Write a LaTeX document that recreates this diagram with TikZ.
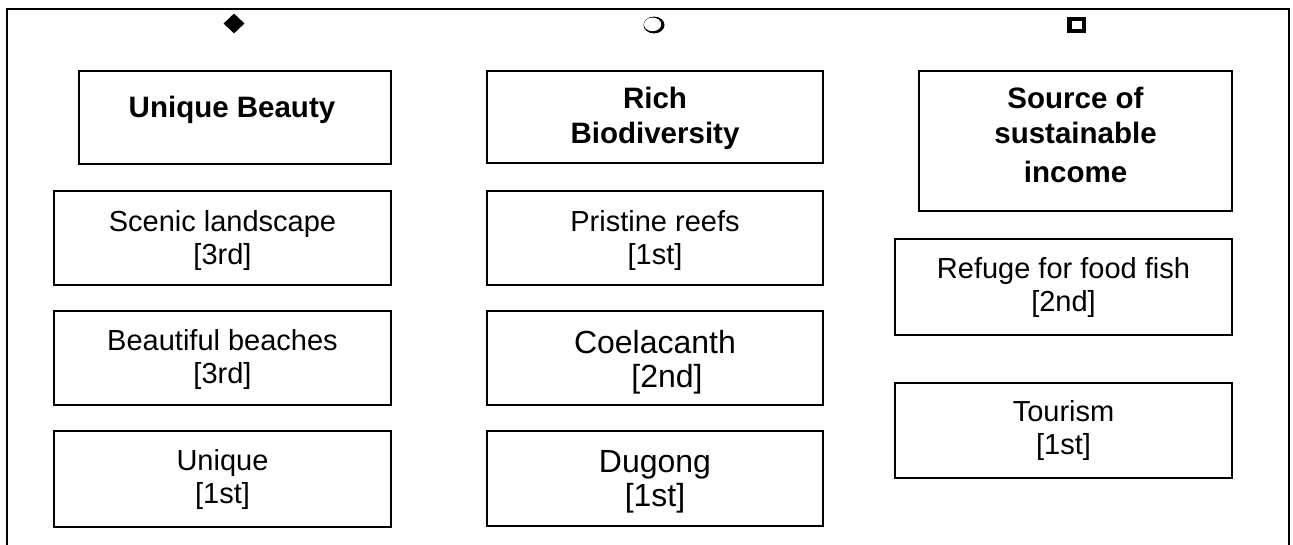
\documentclass[tikz,border=0pt]{standalone}
\usepackage{fontspec}
\setmainfont{Liberation Sans}
\usetikzlibrary{shapes.geometric}
\begin{document}
\begin{tikzpicture}[x=1pt,y=-1pt,
  box/.style={draw, line width=1.8pt, inner sep=0pt},
  txt/.style={align=center, inner sep=0pt, font=\fontsize{29}{33}\selectfont},
  bigtxt/.style={align=center, inner sep=0pt, font=\fontsize{32}{34}\selectfont},
  headtxt/.style={align=center, inner sep=0pt, font=\fontsize{29.5}{35}\selectfont\bfseries}]
\useasboundingbox (0,0) rectangle (1293,544);
% outer frame (open at the bottom)
\coordinate (fbl) at (7,546);
\coordinate (ftl) at (7,9);
\coordinate (ftr) at (1289,9);
\coordinate (fbr) at (1289,546);
\draw[line width=1.8pt] (fbl) -- (ftl) -- (ftr) -- (fbr);
% bullet symbols
\node[diamond, fill=black, minimum width=21pt, minimum height=20pt, inner sep=0pt] (sym1) at (234,23.5) {};
\fill[black] (654,25) ellipse [x radius=10.5, y radius=8.4];
\fill[white] (652.6,24.4) ellipse [x radius=8.6, y radius=6.8];
\node[draw, line width=4.5pt, minimum width=14.5pt, minimum height=12pt, inner sep=0pt] (sym3) at (1076.5,25) {};
% column 1
\node[box, minimum width=312pt, minimum height=93pt] (ub) at (235,117.5) {};
\node[headtxt] (ubt) at (232,109.5) {Unique Beauty};
\node[box, minimum width=337pt, minimum height=94pt] (sc) at (222.5,238) {};
\node[txt] (sct) at ([yshift=-2pt]sc.center) {Scenic landscape\\{}[3rd]};
\node[box, minimum width=337pt, minimum height=94pt] (bb) at (222.5,358) {};
\node[txt] (bbt) at ([yshift=-1pt]bb.center) {Beautiful beaches\\{}[3rd]};
\node[box, minimum width=337pt, minimum height=96pt] (un) at (222.5,479) {};
\node[txt] (unt) at (un.center) {Unique\\{}[1st]};
% column 2
\node[box, minimum width=336pt, minimum height=92pt] (rb) at (655,117) {};
\node[headtxt] (rbt) at ([yshift=-1pt]rb.center) {Rich\\Biodiversity};
\node[box, minimum width=336pt, minimum height=94pt] (pr) at (655,238) {};
\node[txt] (prt) at ([yshift=-2pt]pr.center) {Pristine reefs\\{}[1st]};
\node[box, minimum width=336pt, minimum height=94pt] (co) at (655,358) {};
\node[bigtxt] (cot) at ([yshift=-4pt]co.center) {Coelacanth\\{}\hspace*{24pt}[2nd]};
\node[box, minimum width=336pt, minimum height=95pt] (du) at (655,478.5) {};
\node[bigtxt] (dut) at ([yshift=-3pt]du.center) {Dugong\\{}[1st]};
% column 3
\node[box, minimum width=313pt, minimum height=140pt] (so) at (1075.5,141) {};
\node[headtxt] (sot) at (1075.5,134.5) {Source of\\sustainable\\[4pt]income};
\node[box, minimum width=337pt, minimum height=96pt] (rf) at (1063.5,287) {};
\node[txt] (rft) at (rf.center) {Refuge for food fish\\{}[2nd]};
\node[box, minimum width=337pt, minimum height=95pt] (to) at (1063.5,430.5) {};
\node[txt] (tot) at (to.center) {Tourism\\{}[1st]};
\end{tikzpicture}
\end{document}
